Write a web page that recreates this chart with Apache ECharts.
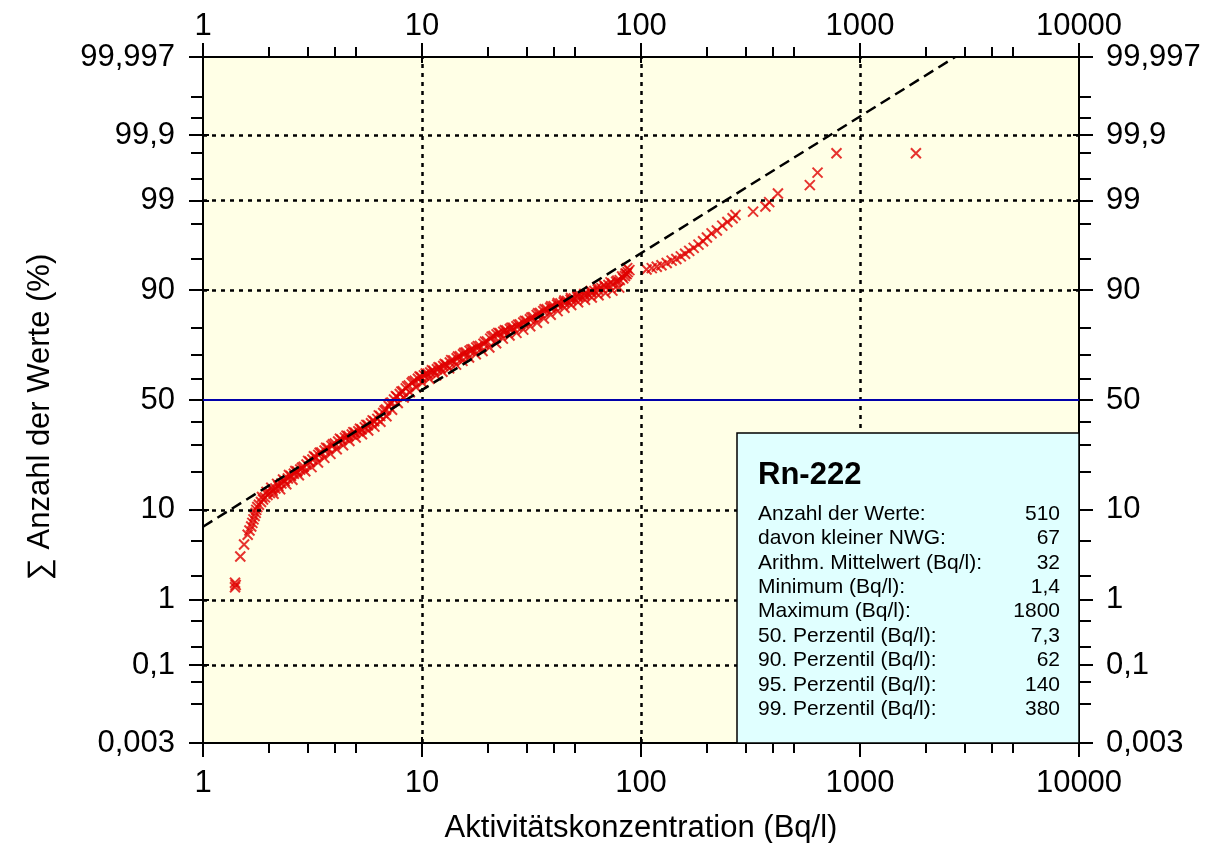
<!DOCTYPE html>
<html><head><meta charset="utf-8">
<script src="https://cdn.jsdelivr.net/npm/echarts@6/dist/echarts.min.js"></script>
<style>html,body{margin:0;padding:0;background:#fff}#c{width:1208px;height:843px}</style>
</head><body><div id="c"></div>
<script>
// ---- data ----
const concentration = [1.40,1.41,1.40,1.48,1.54,1.60,1.63,1.66,1.68,1.70,1.72,1.74,1.75,1.77,1.80,1.84,1.88,1.92,1.97,2.02,2.08,2.14,2.21,2.28,2.36,2.44,2.52,2.60,2.69,2.78,2.88,2.97,3.07,3.16,3.26,3.36,3.47,3.59,3.72,3.86,4.00,4.14,4.29,4.45,4.61,4.78,4.95,5.12,5.30,5.48,5.66,5.85,6.05,6.25,6.45,6.65,6.85,7.05,7.25,7.45,7.68,7.92,8.17,8.43,8.70,8.98,9.27,9.58,9.90,10.2,10.6,10.9,11.3,11.7,12.1,12.5,12.9,13.4,13.9,14.4,14.9,15.4,15.9,16.5,17.1,17.7,18.4,19.1,19.8,20.5,21.2,21.9,22.7,23.5,24.3,25.2,26.1,27.0,28.0,29.0,30.0,31.1,32.2,33.4,34.6,35.8,37.1,38.5,39.9,41.4,42.9,44.4,46.0,47.7,49.4,51.2,53.0,55.0,57.0,59.1,61.3,63.5,66,68.5,71,74,77,80,83,84.5,86,87,88.5,106,112,118,124,131,138,145,152,159,166,174,183,192,200,210,222,235,248,262,270,325,370,385,422,590,640,781,1800,
  1.86,1.95,2.05,2.18,2.32,2.47,2.64,2.83,3.02,3.21,3.41,3.65,3.92,4.22,4.52,4.86,5.21,5.57,5.95,6.35,6.75,7.15,7.6,8.05,8.55,9.1,9.75,10.4,11.1,11.9,12.7,13.6,14.6,15.6,16.8,18.0,19.4,20.8,22.3,23.9,25.6,27.5,29.5,31.6,33.9,36.3,38.9,41.7,44.7,47.9,51.4,55.1,59.0,63.2,67.7,72.6,78.0,82,85,86.5,
  2.1,2.25,2.4,2.56,2.74,2.93,3.13,3.35,3.58,3.82,4.08,4.36,4.66,4.98,5.32,5.68,6.06,6.46,6.88,7.3,7.75,8.25,8.8,9.4,10.05,10.8,11.6,12.4,13.3,14.3,15.3,16.4,17.6,18.9,20.3,21.8,23.4,25.1,27.0,29.0,31.2,33.5,36.0,38.7,41.6,44.7,48.0,51.6,55.5,59.6,64.0,68.8,74.0,79.5];
const cumulativePct = [1.45,1.55,1.65,3.4,4.6,5.8,6.4,7.0,7.6,8.2,8.8,9.4,10.0,10.6,11.1,11.7,12.3,12.8,13.4,13.9,14.5,15.1,15.8,16.5,17.2,18.0,18.8,19.5,20.2,20.9,21.8,22.6,23.6,24.4,25.3,26.1,27.0,27.8,28.7,29.7,30.6,31.4,32.2,33.0,33.7,34.4,35.1,35.8,36.6,37.5,38.4,39.3,40.2,41.3,42.6,44.0,45.6,47.2,48.8,50.2,51.5,52.8,54.1,55.4,56.7,58.0,58.9,59.8,60.6,61.3,62.0,62.6,63.3,64.0,64.7,65.4,66.0,66.9,67.8,68.7,69.5,70.3,71.0,71.7,72.3,73.0,73.6,74.4,75.3,76.3,77.2,77.8,78.2,78.7,79.1,79.6,80.0,80.5,81.1,81.7,82.2,82.7,83.3,83.9,84.5,85.0,85.5,85.9,86.3,86.7,87.0,87.3,87.6,87.9,88.2,88.5,88.7,88.9,89.2,89.5,89.8,90.1,90.4,90.7,91.0,91.3,91.6,91.9,92.2,92.6,92.9,93.2,93.5,93.6,93.8,94.0,94.2,94.5,94.8,95.0,95.3,95.6,95.9,96.2,96.5,96.8,97.1,97.4,97.6,97.9,98.1,98.3,98.45,98.6,98.8,98.95,99.2,99.39,99.6,99.8,99.8,
  12.9,14.2,15.3,16.4,17.7,19.1,20.4,21.5,23.9,25.6,26.9,28.9,30.3,32.6,33.9,35.4,36.9,38.6,40.6,42.9,45.1,48.5,51.8,53.9,56.3,58.6,60.8,62.1,63.6,64.9,66.3,67.9,69.4,70.9,72.2,73.5,75.2,77.0,78.3,79.2,80.0,81.0,82.2,83.2,84.4,85.5,86.3,87.1,87.7,88.3,88.8,89.2,89.8,90.6,91.0,91.5,91.8,92.5,93.0,93.8,
  13.7,14.9,16.3,17.6,19.0,20.3,21.7,23.3,25.0,26.5,28.3,29.9,31.6,33.1,34.5,36.1,37.8,40.0,42.5,45.5,48.6,51.2,53.6,55.9,58.0,59.8,61.3,62.9,64.4,66.0,67.6,69.0,70.3,71.6,73.0,74.6,76.3,77.4,78.3,79.4,80.5,81.6,82.9,84.0,85.0,85.9,86.6,87.3,87.9,88.4,88.9,89.4,89.9,90.5];
const fitConc = [1, 2720];
const fitPct = [6.97, 99.99683];
const xMajorTicks = [1, 10, 100, 1000, 10000];
const xMinorTicks = [2,3,4,5,20,30,40,50,200,300,400,500,2000,3000,4000,5000];
const yMajorPct = [0.00317, 0.1, 1, 10, 50, 90, 99, 99.9, 99.99683];
const yMajorLabels = ['0,003','0,1','1','10','50','90','99','99,9','99,997'];
const yMinorPct = [0.02,0.05,0.2,0.5,2,5,20,30,40,60,70,80,95,98,99.5,99.8,99.95,99.98];
const xGridValues = [10, 100, 1000];
const yGridPct = [0.1, 1, 10, 90, 99, 99.9];
const medianPct = 50;
const statsTitle = 'Rn-222';
const statsLabels = ['Anzahl der Werte:','davon kleiner NWG:','Arithm. Mittelwert (Bq/l):','Minimum (Bq/l):','Maximum (Bq/l):','50. Perzentil (Bq/l):','90. Perzentil (Bq/l):','95. Perzentil (Bq/l):','99. Perzentil (Bq/l):'];
const statsValues = ['510','67','32','1,4','1800','7,3','62','140','380'];

// ---- normal probability scale (inverse normal CDF, Acklam) ----
function probit(pct) {
  const p = pct / 100;
  const a=[-3.969683028665376e+01,2.209460984245205e+02,-2.759285104469687e+02,1.383577518672690e+02,-3.066479806614716e+01,2.506628277459239e+00];
  const b=[-5.447609879822406e+01,1.615858368580409e+02,-1.556989798598866e+02,6.680131188771972e+01,-1.328068155288572e+01];
  const c=[-7.784894002430293e-03,-3.223964580411365e-01,-2.400758277161838e+00,-2.549732539343734e+00,4.374664141464968e+00,2.938163982698783e+00];
  const d=[7.784695709041462e-03,3.224671290700398e-01,2.445134137142996e+00,3.754408661907416e+00];
  const pl=0.02425, ph=1-pl; let q,r;
  if (p < pl) { q=Math.sqrt(-2*Math.log(p)); return (((((c[0]*q+c[1])*q+c[2])*q+c[3])*q+c[4])*q+c[5])/((((d[0]*q+d[1])*q+d[2])*q+d[3])*q+1); }
  if (p <= ph) { q=p-0.5; r=q*q; return (((((a[0]*r+a[1])*r+a[2])*r+a[3])*r+a[4])*r+a[5])*q/(((((b[0]*r+b[1])*r+b[2])*r+b[3])*r+b[4])*r+1); }
  q=Math.sqrt(-2*Math.log(1-p)); return -(((((c[0]*q+c[1])*q+c[2])*q+c[3])*q+c[4])*q+c[5])/((((d[0]*q+d[1])*q+d[2])*q+d[3])*q+1);
}
const Z_MIN = -4, Z_MAX = 4;
const clampZ = z => Math.max(Z_MIN, Math.min(Z_MAX, z));
const yMajorZ = yMajorPct.map(p => clampZ(probit(p)));
const yMinorZ = yMinorPct.map(probit);

const FONT = '"Liberation Sans", Arial, sans-serif';
const gridRect = {left: 203, top: 57, right: 129, bottom: 100, outerBoundsMode: 'none', containLabel: false};
const lineBase = {color: '#000', width: 2};

function xAxisDef(grid, pos, ticks, opts) {
  return Object.assign({
    type: 'log', logBase: 10, min: 1, max: 10000, gridIndex: grid, position: pos,
    axisLine: {show: true, onZero: false, lineStyle: lineBase},
    axisTick: {show: true, customValues: ticks, length: 14, inside: false, lineStyle: lineBase},
    axisLabel: {show: false}, splitLine: {show: false}, minorTick: {show: false}
  }, opts || {});
}
function yAxisDef(grid, pos, ticks, opts) {
  return Object.assign({
    type: 'value', min: Z_MIN, max: Z_MAX, gridIndex: grid, position: pos,
    axisLine: {show: true, onZero: false, lineStyle: lineBase},
    axisTick: {show: true, customValues: ticks, length: 14, inside: false, lineStyle: lineBase},
    axisLabel: {show: false}, splitLine: {show: false}, minorTick: {show: false}
  }, opts || {});
}
const xLabel = (margin) => ({show: true, customValues: xMajorTicks, margin: margin, fontSize: 31, fontFamily: FONT, color: '#000',
  formatter: v => String(Math.round(v))});
const yLabel = (margin) => ({show: true, customValues: yMajorZ, margin: margin, fontSize: 31, fontFamily: FONT, color: '#000',
  formatter: v => { let bi = 0; yMajorZ.forEach((z, i) => { if (Math.abs(z - v) < Math.abs(yMajorZ[bi] - v)) bi = i; }); return yMajorLabels[bi]; }});

const crossPath = 'path://M0,0L10,10M10,0L0,10';

const option = {
  animation: false,
  backgroundColor: '#ffffff',
  grid: [
    Object.assign({show: true, backgroundColor: '#ffffe6', borderWidth: 0}, gridRect),
    Object.assign({}, gridRect),
    Object.assign({}, gridRect)
  ],
  xAxis: [
    xAxisDef(0, 'bottom', xMajorTicks, {axisLabel: xLabel(25), name: 'Aktivitätskonzentration (Bq/l)', nameLocation: 'middle', nameGap: 70,
      nameMoveOverlap: false, nameTextStyle: {fontSize: 31, fontFamily: FONT, color: '#000'}}),
    xAxisDef(0, 'top', xMajorTicks, {axisLabel: xLabel(15)}),
    xAxisDef(1, 'bottom', xMinorTicks, {axisLine: {show: false, onZero: false}, axisTick: {show: true, customValues: xMinorTicks, length: 10, lineStyle: lineBase}}),
    xAxisDef(1, 'top', xMinorTicks, {axisLine: {show: false, onZero: false}, axisTick: {show: true, customValues: xMinorTicks, length: 10, lineStyle: lineBase}}),
    xAxisDef(2, 'bottom', xMajorTicks, {axisLine: {show: false, onZero: false}, axisTick: {show: true, customValues: xMajorTicks, length: 6, inside: true, lineStyle: lineBase}}),
    xAxisDef(2, 'top', xMajorTicks, {axisLine: {show: false, onZero: false}, axisTick: {show: true, customValues: xMajorTicks, length: 6, inside: true, lineStyle: lineBase}})
  ],
  yAxis: [
    yAxisDef(0, 'left', yMajorZ, {axisLabel: yLabel(28)}),
    yAxisDef(0, 'right', yMajorZ, {axisLabel: yLabel(27)}),
    yAxisDef(1, 'left', yMinorZ, {axisLine: {show: false, onZero: false}, axisTick: {show: true, customValues: yMinorZ, length: 12, lineStyle: lineBase}}),
    yAxisDef(1, 'right', yMinorZ, {axisLine: {show: false, onZero: false}, axisTick: {show: true, customValues: yMinorZ, length: 12, lineStyle: lineBase}}),
    yAxisDef(2, 'left', yMajorZ, {axisLine: {show: false, onZero: false}, axisTick: {show: true, customValues: yMajorZ, length: 6, inside: true, lineStyle: lineBase}}),
    yAxisDef(2, 'right', yMajorZ, {axisLine: {show: false, onZero: false}, axisTick: {show: true, customValues: yMajorZ, length: 6, inside: true, lineStyle: lineBase}})
  ],
  series: [
    {
      name: 'grid', type: 'line', xAxisIndex: 0, yAxisIndex: 0, data: [], z: 2, silent: true,
      markLine: {
        silent: true, symbol: 'none', label: {show: false}, animation: false,
        lineStyle: {color: '#000', width: 2.5, type: [4, 5]},
        data: xGridValues.map(v => ({xAxis: v}))
          .concat(yGridPct.map(p => ({yAxis: probit(p)})))
          .concat([{yAxis: probit(medianPct), lineStyle: {color: '#0000aa', type: 'solid', width: 2}}])
      }
    },
    {
      name: 'Messwerte', type: 'scatter', xAxisIndex: 0, yAxisIndex: 0, z: 3,
      symbol: crossPath, symbolSize: 10,
      itemStyle: {color: 'rgba(0,0,0,0)', borderColor: '#e00000', borderWidth: 2},
      data: concentration.map((v, i) => [v, probit(cumulativePct[i])])
    },
    {
      name: 'Lognormal', type: 'line', xAxisIndex: 0, yAxisIndex: 0, z: 4, symbol: 'none', clip: true,
      lineStyle: {color: '#000', width: 2.5, type: [11, 6]},
      data: fitConc.map((v, i) => [v, probit(fitPct[i])])
    }
  ],
  graphic: [
    {type: 'text', x: 40, y: 417, rotation: Math.PI / 2, z: 50,
      style: {text: '∑ Anzahl der Werte (%)', font: '31px ' + FONT, fill: '#000', textAlign: 'center', textVerticalAlign: 'middle', align: 'center', verticalAlign: 'middle'}},
    {type: 'group', z: 100, children: [
      {type: 'rect', shape: {x: 737, y: 433, width: 342, height: 310}, style: {fill: '#e0ffff', stroke: '#000', lineWidth: 1.5}, z: 100},
      {type: 'text', x: 758, y: 475, z: 101, style: {text: statsTitle, font: 'bold 31px ' + FONT, fill: '#000', textVerticalAlign: 'middle', verticalAlign: 'middle'}}
    ].concat(statsLabels.map((t, i) => ({type: 'text', x: 758, y: 514 + i * 24.4, z: 101,
        style: {text: t, font: '21px ' + FONT, fill: '#000', textVerticalAlign: 'middle', verticalAlign: 'middle'}})))
     .concat(statsValues.map((t, i) => ({type: 'text', x: 1060, y: 514 + i * 24.4, z: 101,
        style: {text: t, font: '21px ' + FONT, fill: '#000', textAlign: 'right', align: 'right', textVerticalAlign: 'middle', verticalAlign: 'middle'}})))
    }
  ]
};
const chart = echarts.init(document.getElementById('c'), null, {renderer: 'canvas'});
chart.setOption(option);
</script></body></html>
